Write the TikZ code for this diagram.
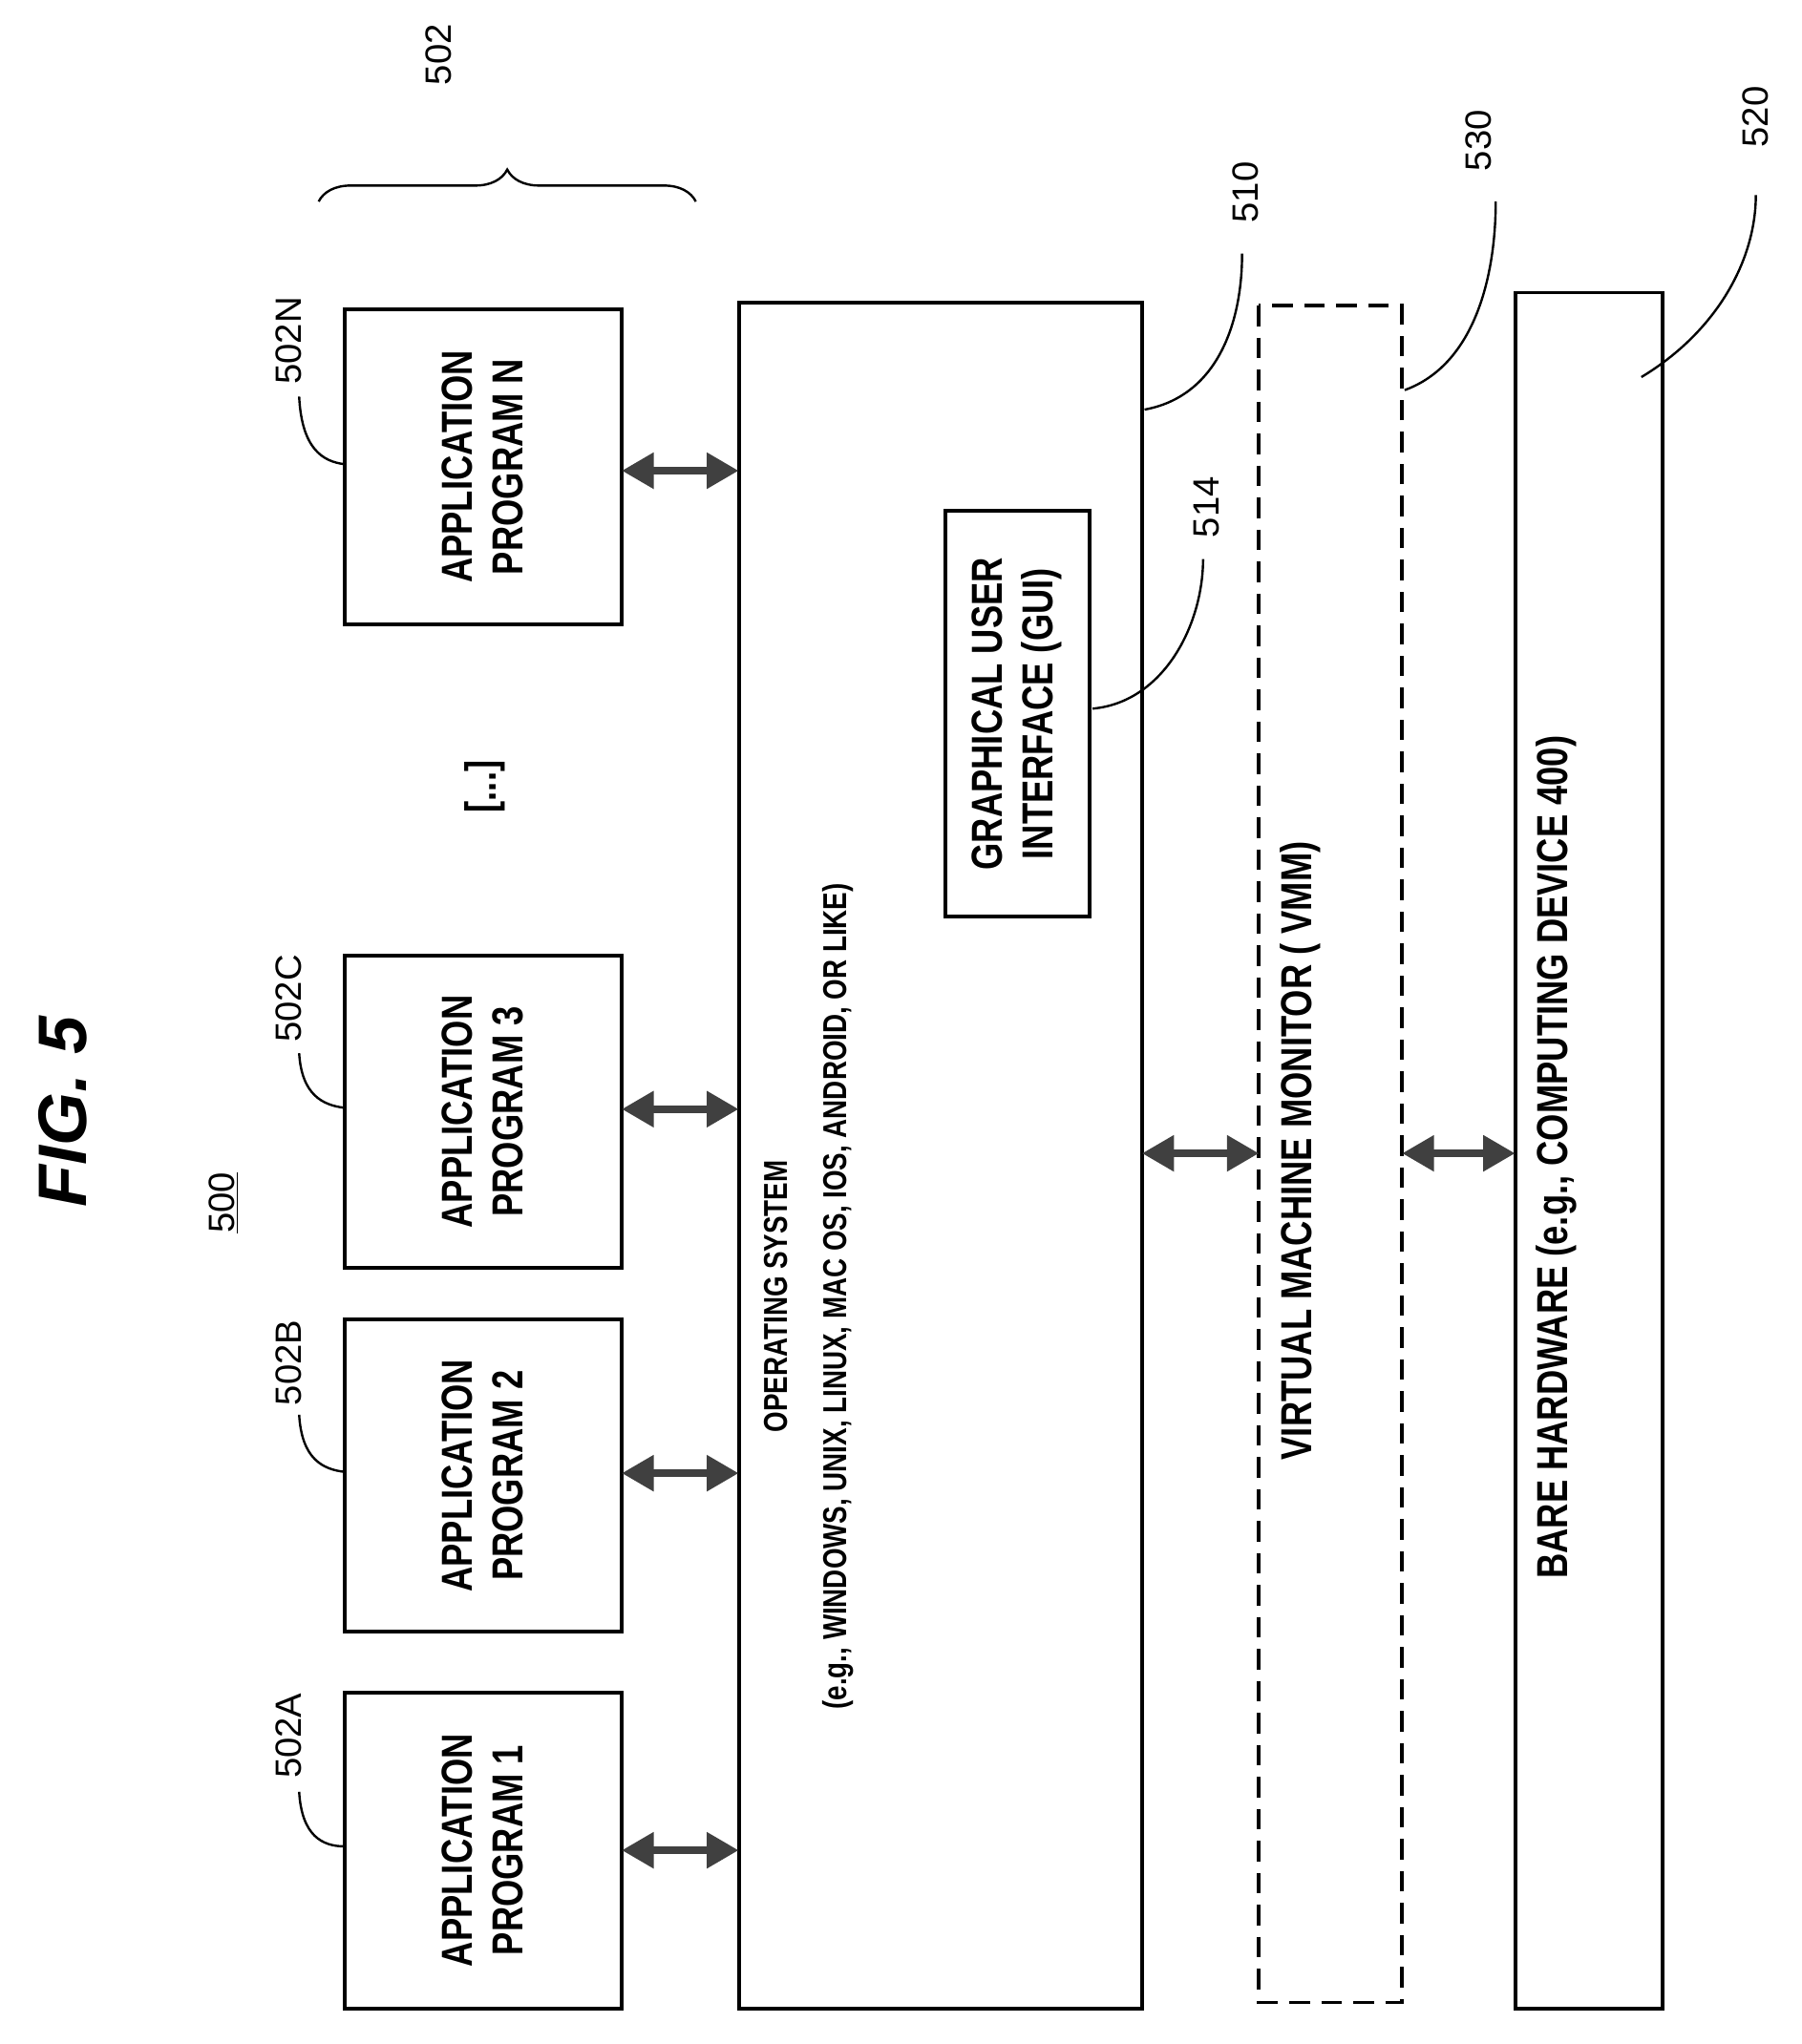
\documentclass[tikz,border=0pt]{standalone}
\usepackage{fontspec}
\setmainfont{Liberation Sans}
\newfontfamily\cf{Liberation Sans}[FakeStretch=0.8]
\usetikzlibrary{arrows.meta,decorations.pathreplacing}
\begin{document}
\begin{tikzpicture}[x=0.02cm,y=-0.02cm,
  box/.style={draw,line width=1.6pt},
  t/.style={rotate=90,font=\cf\bfseries\fontsize{19}{22}\selectfont,align=center},
  lab/.style={rotate=90,font=\fontsize{16}{19}\selectfont},
  dbl/.style={{Triangle[length=14pt,width=15pt]}-{Triangle[length=14pt,width=15pt]},line width=3.5pt,draw=black!75,fill=black!75},
  lead/.style={line width=1pt}]
\useasboundingbox (0,0) rectangle (1385,1572);
\node[rotate=90,font=\fontsize{30}{34}\bfseries\itshape\selectfont] (fig) at (48,855) {FIG. 5};
\node[lab] (n500) at (172,925) {\underline{500}};
% app boxes
\draw[box] (265,1302) rectangle (478,1545);
\draw[box] (265,1015) rectangle (478,1255);
\draw[box] (265,735) rectangle (478,975);
\draw[box] (265,238) rectangle (478,480);
\node[t] (a1) at (371,1423) {APPLICATION\\PROGRAM 1};
\node[t] (a2) at (371,1135) {APPLICATION\\PROGRAM 2};
\node[t] (a3) at (371,855) {APPLICATION\\PROGRAM 3};
\node[t] (an) at (371,359) {APPLICATION\\PROGRAM N};
\node[t] (dots) at (373,605) {[...]};
% labels
\node[lab] (l1) at (222,1335) {502A};
\node[lab] (l2) at (222,1048) {502B};
\node[lab] (l3) at (222,768) {502C};
\node[lab] (l4) at (222,262) {502N};
\draw[lead] (230,1378) .. controls (232,1412) and (248,1420) .. (265,1420);
\draw[lead] (230,1088) .. controls (232,1122) and (248,1130) .. (265,1132);
\draw[lead] (230,810) .. controls (232,842) and (248,850) .. (265,852);
\draw[lead] (230,305) .. controls (232,345) and (248,355) .. (265,357);
\draw[line width=1pt,decorate,decoration={brace,amplitude=14pt}] (245,155) -- (535,155);
\node[lab] (l502) at (337,42) {502};
% OS
\draw[box] (568,233) rectangle (878,1545);
\node[t,font=\cf\bfseries\fontsize{14.5}{26}\selectfont] (os) at (622,997) {OPERATING SYSTEM\\(e.g., WINDOWS, UNIX, LINUX, MAC OS, IOS, ANDROID, OR LIKE)};
\draw[box] (727,393) rectangle (838,705);
\node[t] (gui) at (782,549) {GRAPHICAL USER\\INTERFACE (GUI)};
\node[lab] (l514) at (928,390) {514};
\draw[lead] (840,545) .. controls (895,540) and (925,480) .. (925,430);
\node[lab] (l510) at (958,148) {510};
\draw[lead] (880,315) .. controls (935,305) and (955,250) .. (955,195);
% VMM
\draw[box,dashed,dash pattern=on 9pt off 5pt] (968,235) rectangle (1078,1540);
\node[t] (vmm) at (1000,885) {VIRTUAL MACHINE MONITOR ( VMM)};
\node[lab] (l530) at (1137,108) {530};
\draw[lead] (1080,300) .. controls (1135,280) and (1150,210) .. (1150,155);
% HW
\draw[box] (1165,225) rectangle (1278,1545);
\node[t] (hw) at (1197,890) {BARE HARDWARE (e.g., COMPUTING DEVICE 400)};
\node[lab] (l520) at (1350,90) {520};
\draw[lead] (1262,290) .. controls (1320,255) and (1350,200) .. (1350,150);
% arrows
\foreach \y in {362,853,1133,1423}{\draw[dbl] (478,\y) -- (568,\y);}
\draw[dbl] (878,887) -- (968,887);
\draw[dbl] (1078,887) -- (1165,887);
\end{tikzpicture}
\end{document}
